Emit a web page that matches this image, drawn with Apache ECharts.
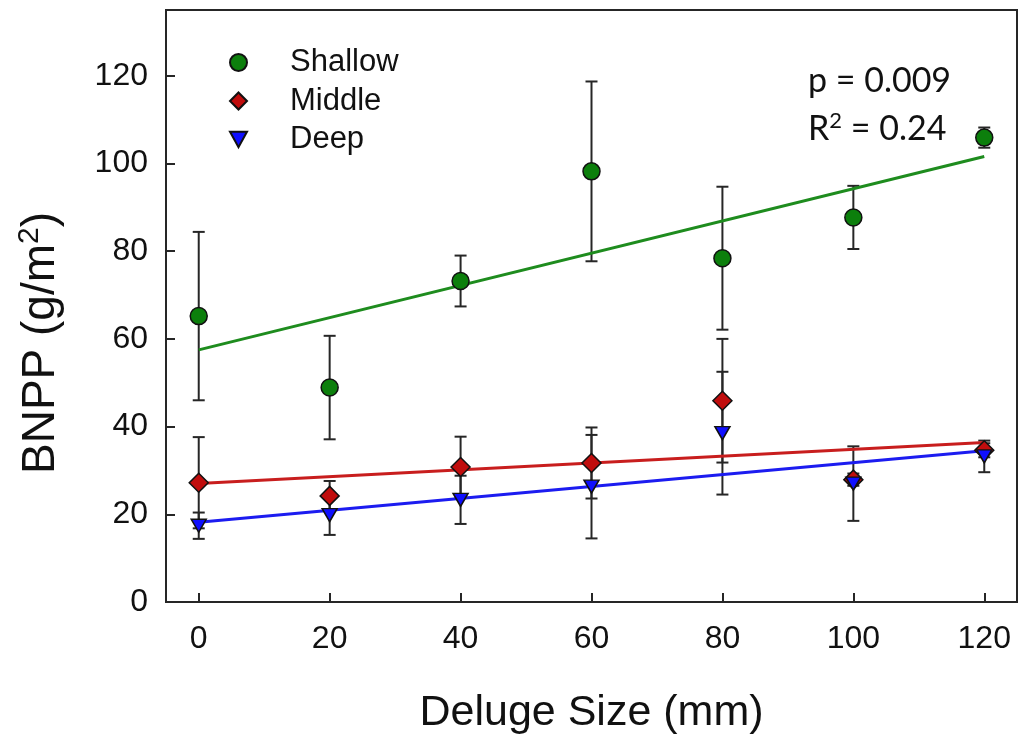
<!DOCTYPE html>
<html>
<head>
<meta charset="utf-8">
<script src="https://cdn.jsdelivr.net/npm/echarts@6/dist/echarts.min.js"></script>
<style>
  html, body { margin: 0; padding: 0; background: #fff; }
  #chart { width: 1021px; height: 740px; }
</style>
</head>
<body>
<div id="chart"></div>
<script>
// Deluge size treatments (mm)
const delugeSize = [0, 20, 40, 60, 80, 100, 120];

// Mean BNPP (g/m2) and error (±) per soil depth
const shallowMean = [65.2, 48.9, 73.2, 98.2, 78.4, 87.7, 105.9];
const shallowErr  = [19.2, 11.8, 5.8, 20.5, 16.3, 7.2, 2.3];
const middleMean  = [27.2, 24.2, 30.8, 31.7, 45.9, 27.9, 34.6];
const middleErr   = [10.4, 3.4, 6.9, 8.1, 14.1, 1.4, 1.6];
const deepMean    = [17.4, 19.8, 23.3, 26.3, 38.5, 27.0, 33.2];
const deepErr     = [3.0, 4.5, 5.5, 11.8, 14.0, 8.5, 3.6];

// Linear fits: value at deluge 0 and 120 mm
const fitX       = [0, 120];
const shallowFit = [57.5, 101.6];
const middleFit  = [27.0, 36.4];
const deepFit    = [18.2, 34.5];

// Tick values
const xTicks = [0, 20, 40, 60, 80, 100, 120];
const yTicks = [0, 20, 40, 60, 80, 100, 120];

const statsP  = 'p = 0.009';
const statsR2 = '0.24';

const FONT = '"Liberation Sans", Arial, sans-serif';
const STAT_FONT = 'Lato, "Open Sans", sans-serif';
const downTriangle = 'path://M0,0 L10,0 L5,9 Z';

const pairs = (xs, ys) => xs.map((x, i) => [x, ys[i]]);
const bars = (means, errs) => delugeSize.map((x, i) => [x, means[i] - errs[i], means[i] + errs[i]]);

function errorBar(params, api) {
  const x = api.value(0);
  const lo = api.coord([x, api.value(1)]);
  const hi = api.coord([x, api.value(2)]);
  const w = 6;
  const st = { stroke: '#262626', lineWidth: 2 };
  return {
    type: 'group',
    children: [
      { type: 'line', shape: { x1: hi[0], y1: hi[1], x2: lo[0], y2: lo[1] }, style: st },
      { type: 'line', shape: { x1: hi[0] - w, y1: hi[1], x2: hi[0] + w, y2: hi[1] }, style: st },
      { type: 'line', shape: { x1: lo[0] - w, y1: lo[1], x2: lo[0] + w, y2: lo[1] }, style: st }
    ]
  };
}

function errSeries(name, means, errs) {
  return {
    name: name, type: 'custom', renderItem: errorBar,
    data: bars(means, errs), z: 2, silent: true,
    encode: { x: 0, y: [1, 2] }
  };
}

function fitSeries(name, ys, color) {
  return {
    name: name, type: 'line', data: pairs(fitX, ys), showSymbol: false,
    lineStyle: { color: color, width: 3 }, z: 3, silent: true
  };
}

function pointSeries(name, means, symbol, size, color) {
  return {
    name: name, type: 'scatter', data: pairs(delugeSize, means),
    symbol: symbol, symbolSize: size,
    itemStyle: { color: color, borderColor: '#111', borderWidth: 1.5, opacity: 1 },
    z: 4
  };
}

const axisLineStyle = { color: '#262626', width: 2 };

const chart = echarts.init(document.getElementById('chart'), null, { renderer: 'canvas' });

chart.setOption({
  animation: false,
  backgroundColor: '#fff',
  grid: {
    left: 166, right: 4, top: 10, bottom: 133,
    show: true, borderColor: '#262626', borderWidth: 2, backgroundColor: 'transparent'
  },
  legend: {
    data: ['Shallow', 'Middle', 'Deep'],
    orient: 'vertical',
    left: 224, top: 42,
    itemWidth: 17, itemHeight: 17, itemGap: 7.5,
    selectedMode: false,
    textStyle: { fontFamily: FONT, fontSize: 31, color: '#111', lineHeight: 30, padding: [0, 0, 0, 38] }
  },
  xAxis: {
    type: 'value', min: -5, max: 125,
    name: 'Deluge Size (mm)', nameLocation: 'middle', nameGap: 90,
    nameTextStyle: { fontFamily: FONT, fontSize: 43, color: '#111', lineHeight: 43 },
    axisLine: { show: true, onZero: false, lineStyle: axisLineStyle },
    axisTick: { show: true, inside: true, length: 9, customValues: xTicks, lineStyle: axisLineStyle },
    axisLabel: { fontFamily: FONT, fontSize: 32, color: '#111', margin: 21, customValues: xTicks },
    splitLine: { show: false }
  },
  yAxis: {
    type: 'value', min: 0, max: 135,
    axisLine: { show: true, onZero: false, lineStyle: axisLineStyle },
    axisTick: { show: true, inside: true, length: 9, customValues: yTicks, lineStyle: axisLineStyle },
    axisLabel: { fontFamily: FONT, fontSize: 32, color: '#111', margin: 18, customValues: yTicks },
    splitLine: { show: false }
  },
  graphic: [
    {
      type: 'text', x: 41, y: 343, rotation: Math.PI / 2,
      style: {
        text: '{a|BNPP (g/m}{s|2}{a|)}',
        align: 'center', verticalAlign: 'middle',
        textAlign: 'center', textVerticalAlign: 'middle',
        rich: {
          a: { fontFamily: FONT, fontSize: 46, fill: '#111', color: '#111' },
          s: { fontFamily: FONT, fontSize: 30, fill: '#111', color: '#111', padding: [0, 0, 22, 0] }
        }
      }
    },
    {
      type: 'text', left: 808, top: 64,
      style: { text: statsP, fontFamily: STAT_FONT, fontSize: 34, fill: '#111' }
    },
    {
      type: 'text', left: 808, top: 110,
      style: {
        text: '{a|R}{s|2}{a| = ' + statsR2 + '}',
        rich: {
          a: { fontFamily: STAT_FONT, fontSize: 34, fill: '#111', color: '#111' },
          s: { fontFamily: STAT_FONT, fontSize: 22, fill: '#111', color: '#111', padding: [0, 0, 16, 0] }
        }
      }
    }
  ],
  series: [
    errSeries('Shallow SE', shallowMean, shallowErr),
    errSeries('Middle SE', middleMean, middleErr),
    errSeries('Deep SE', deepMean, deepErr),
    fitSeries('Shallow fit', shallowFit, '#1e8c1e'),
    fitSeries('Middle fit', middleFit, '#c81e1e'),
    fitSeries('Deep fit', deepFit, '#1c1cf0'),
    pointSeries('Shallow', shallowMean, 'circle', 17, '#0c7f0c'),
    pointSeries('Middle', middleMean, 'diamond', 19, '#c00d0d'),
    pointSeries('Deep', deepMean, downTriangle, [15, 13], '#0f0fff')
  ]
});
</script>
</body>
</html>
